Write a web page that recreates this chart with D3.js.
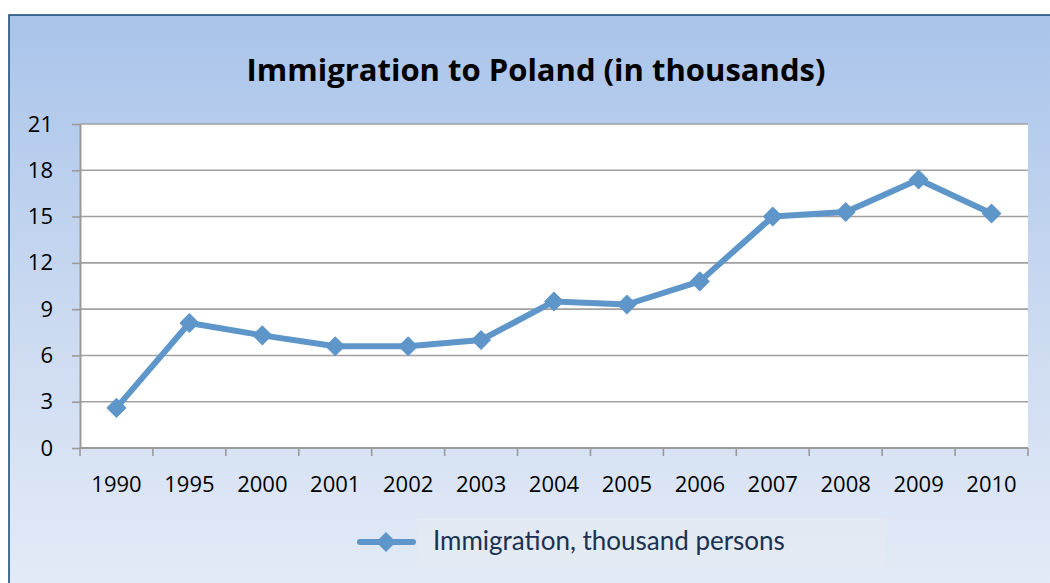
<!DOCTYPE html>
<html>
<head>
<meta charset="utf-8">
<script src="https://cdn.jsdelivr.net/npm/d3@7"></script>
<style>
  html, body { margin: 0; padding: 0; background: #ffffff; }
  svg { display: block; }
</style>
</head>
<body>
<svg id="chart" width="1050" height="583"></svg>
<script>
// Immigration to Poland, thousand persons
const years = ["1990", "1995", "2000", "2001", "2002", "2003", "2004", "2005", "2006", "2007", "2008", "2009", "2010"];
const immigration = [2.6, 8.1, 7.3, 6.6, 6.6, 7.0, 9.5, 9.3, 10.8, 15.0, 15.3, 17.4, 15.2];
const yTicks = [0, 3, 6, 9, 12, 15, 18, 21];
const chartTitle = "Immigration to Poland (in thousands)";
const seriesName = "Immigration, thousand persons";

const svg = d3.select("#chart");
const W = 1050, H = 583;
const plot = { left: 80, right: 1028, top: 124, bottom: 448 };
const lineColor = "#5f96c9";
const labelFont = "'Open Sans', 'Noto Sans', sans-serif";

// background panel with vertical gradient
const defs = svg.append("defs");
const grad = defs.append("linearGradient")
  .attr("id", "bg").attr("x1", 0).attr("y1", 0).attr("x2", 0).attr("y2", 1);
grad.append("stop").attr("offset", "0%").attr("stop-color", "#a9c4ea");
grad.append("stop").attr("offset", "55%").attr("stop-color", "#cddbf1");
grad.append("stop").attr("offset", "100%").attr("stop-color", "#e5ecf7");

svg.append("rect")
  .attr("x", 9).attr("y", 15).attr("width", W + 10).attr("height", H + 10)
  .attr("fill", "url(#bg)")
  .attr("stroke", "#1f4e79").attr("stroke-width", 1.6);

// title
svg.append("text")
  .attr("x", 536).attr("y", 81)
  .attr("text-anchor", "middle")
  .attr("font-family", labelFont)
  .attr("font-weight", 700)
  .attr("font-size", 31)
  .attr("fill", "#000")
  .text(chartTitle);

// scales
const x = d3.scaleBand().domain(years).range([plot.left, plot.right]);
const y = d3.scaleLinear().domain([0, 21]).range([plot.bottom, plot.top]);

// plot area
svg.append("rect")
  .attr("x", plot.left).attr("y", plot.top)
  .attr("width", plot.right - plot.left).attr("height", plot.bottom - plot.top)
  .attr("fill", "#ffffff");

// horizontal gridlines
svg.append("g")
  .selectAll("line")
  .data(yTicks.filter(d => d > 0))
  .join("line")
  .attr("x1", plot.left).attr("x2", plot.right)
  .attr("y1", d => y(d)).attr("y2", d => y(d))
  .attr("stroke", "#a0a0a0").attr("stroke-width", 1.6);

// y axis
const yAxis = svg.append("g")
  .attr("transform", `translate(${plot.left},0)`)
  .call(d3.axisLeft(y).tickValues(yTicks).tickSize(8).tickPadding(19).tickSizeOuter(0));
yAxis.select(".domain").attr("stroke", "#9a9a9a").attr("stroke-width", 2);
yAxis.selectAll(".tick line").attr("stroke", "#9a9a9a").attr("stroke-width", 1.6);
yAxis.selectAll(".tick text")
  .attr("font-family", labelFont)
  .attr("font-size", 22).attr("fill", "#000");

// x axis: ticks on category boundaries
const xAxis = svg.append("g")
  .attr("transform", `translate(0,${plot.bottom})`);
xAxis.append("line")
  .attr("x1", plot.left).attr("x2", plot.right)
  .attr("y1", 0).attr("y2", 0)
  .attr("stroke", "#9a9a9a").attr("stroke-width", 2);
const bounds = years.map(d => x(d)).concat([x(years[years.length - 1]) + x.bandwidth()]);
xAxis.selectAll("line.tk")
  .data(bounds)
  .join("line").attr("class", "tk")
  .attr("x1", d => d).attr("x2", d => d)
  .attr("y1", 0).attr("y2", 8)
  .attr("stroke", "#9a9a9a").attr("stroke-width", 1.6);
xAxis.selectAll("text")
  .data(years)
  .join("text")
  .attr("x", d => x(d) + x.bandwidth() / 2)
  .attr("y", 44)
  .attr("text-anchor", "middle")
  .attr("font-family", labelFont)
  .attr("font-size", 22).attr("fill", "#000")
  .text(d => d);

// series line
const cx = d => x(d) + x.bandwidth() / 2;
const line = d3.line()
  .x((d, i) => cx(years[i]))
  .y(d => y(d));
svg.append("path")
  .datum(immigration)
  .attr("d", line)
  .attr("fill", "none")
  .attr("stroke", lineColor)
  .attr("stroke-width", 6)
  .attr("stroke-linejoin", "round");

// diamond markers
const diamond = s => `M0,${-s}L${s},0L0,${s}L${-s},0Z`;
svg.append("g")
  .selectAll("path")
  .data(immigration)
  .join("path")
  .attr("transform", (d, i) => `translate(${cx(years[i])},${y(d)})`)
  .attr("d", diamond(9))
  .attr("fill", lineColor)
  .attr("stroke", lineColor).attr("stroke-width", 1.5)
  .attr("stroke-linejoin", "round");

// legend
const legend = svg.append("g");
legend.append("rect")
  .attr("x", 417).attr("y", 518).attr("width", 469).attr("height", 50)
  .attr("fill", "#e3eaf1").attr("opacity", 0.8);
legend.append("line")
  .attr("x1", 360).attr("x2", 413).attr("y1", 542).attr("y2", 542)
  .attr("stroke", lineColor).attr("stroke-width", 6).attr("stroke-linecap", "round");
legend.append("path")
  .attr("transform", "translate(386,542)")
  .attr("d", diamond(10))
  .attr("fill", lineColor);
legend.append("text")
  .attr("x", 433).attr("y", 550)
  .attr("font-family", "Lato, 'Noto Sans', sans-serif")
  .attr("font-size", 26).attr("fill", "#1b3152")
  .text(seriesName);
</script>
</body>
</html>
